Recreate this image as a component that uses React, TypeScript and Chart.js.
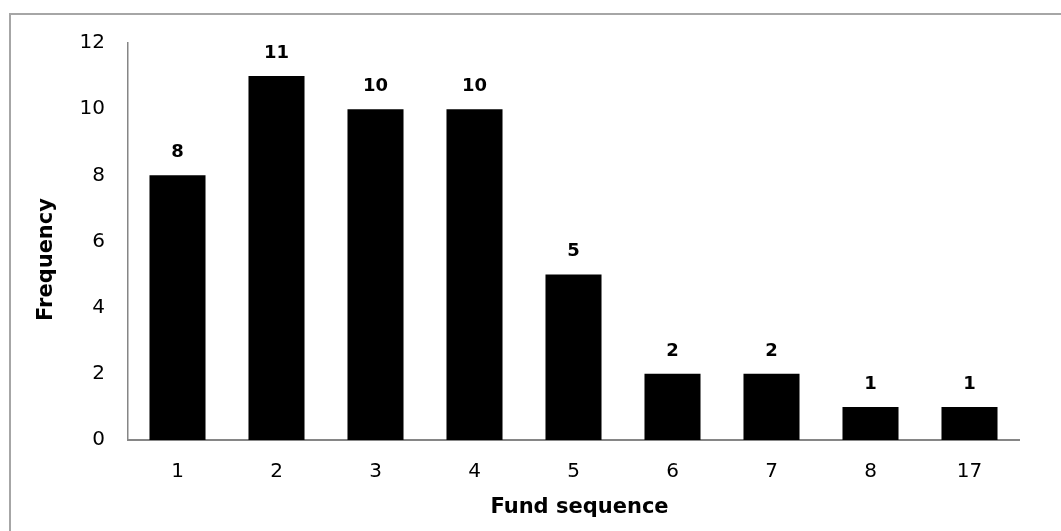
import React, { useEffect, useRef } from "react";
import { Chart, registerables } from "chart.js";

Chart.register(...registerables);

const categories = ["1", "2", "3", "4", "5", "6", "7", "8", "17"];
const frequency = [8, 11, 10, 10, 5, 2, 2, 1, 1];
const yTicks = [0, 2, 4, 6, 8, 10, 12];

const FONT = "'DejaVu Sans', Verdana, sans-serif";

// Slides an axis title along its axis by dx/dy pixels while it is drawn
function nudgeTitle(scale: any, dx: number, dy: number) {
  if (scale.__titleNudged) return;
  scale.__titleNudged = true;
  const original = scale.drawTitle;
  scale.drawTitle = function () {
    const { left, right, top, bottom } = this;
    this.left = left + dx;
    this.right = right + dx;
    this.top = top + dy;
    this.bottom = bottom + dy;
    original.call(this);
    this.left = left;
    this.right = right;
    this.top = top;
    this.bottom = bottom;
  };
}

// Writes each bar's value in bold just above it
const valueLabels = {
  id: "valueLabels",
  afterDatasetsDraw(chart: any) {
    const { ctx } = chart;
    const meta = chart.getDatasetMeta(0);
    const values = chart.data.datasets[0].data as number[];
    ctx.save();
    ctx.font = `bold 18px ${FONT}`;
    ctx.fillStyle = "#000";
    ctx.textAlign = "center";
    ctx.textBaseline = "middle";
    meta.data.forEach((bar: any, i: number) => {
      ctx.fillText(String(values[i]), bar.x, bar.y - 23);
    });
    ctx.restore();
  },
};

export default function App() {
  const canvasRef = useRef<HTMLCanvasElement>(null);

  useEffect(() => {
    if (!canvasRef.current) return;
    const chart = new Chart(canvasRef.current, {
      type: "bar",
      data: {
        labels: categories,
        datasets: [
          {
            data: frequency,
            backgroundColor: "#000000",
            borderWidth: 0,
            barPercentage: 0.566,
            categoryPercentage: 1,
          },
        ],
      },
      options: {
        animation: false,
        responsive: false,
        devicePixelRatio: 1,
        layout: { padding: { top: 43, right: 42, bottom: 0, left: 0 } },
        plugins: {
          legend: { display: false },
          tooltip: { enabled: false },
        },
        scales: {
          x: {
            grid: { display: false, drawTicks: false },
            border: { display: true, color: "#868686", width: 2 },
            ticks: {
              color: "#000",
              padding: 20,
              font: { family: FONT, size: 20 },
            },
            title: {
              display: true,
              text: "Fund sequence",
              color: "#000",
              font: { family: FONT, size: 21, weight: "bold" },
              padding: { top: 0, bottom: 11 },
            },
            afterFit(scale: any) {
              scale.height = 91;
              nudgeTitle(scale, 6, 0);
            },
          },
          y: {
            min: 0,
            max: 12,
            afterBuildTicks(scale: any) {
              scale.ticks = yTicks.map((v) => ({ value: v }));
            },
            grid: { display: false, drawTicks: false },
            border: { display: true, color: "#868686", width: 1.5 },
            ticks: {
              color: "#000",
              padding: 23,
              font: { family: FONT, size: 20 },
            },
            title: {
              display: true,
              text: "Frequency",
              color: "#000",
              font: { family: FONT, size: 21, weight: "bold" },
              padding: { top: 34, bottom: 0 },
            },
            afterFit(scale: any) {
              scale.width = 128;
              nudgeTitle(scale, 0, 18);
            },
          },
        },
      },
      plugins: [valueLabels],
    });
    return () => chart.destroy();
  }, []);

  return (
    <div
      style={{
        position: "fixed",
        left: 0,
        top: 0,
        width: 1061,
        height: 531,
        overflow: "hidden",
        background: "#fff",
      }}
    >
      <div
        style={{
          position: "absolute",
          left: 9,
          top: 13,
          width: 1200,
          height: 700,
          borderLeft: "2px solid #a6a6a6",
          borderTop: "2px solid #a6a6a6",
        }}
      />
      <canvas
        ref={canvasRef}
        width={1061}
        height={531}
        style={{ position: "absolute", left: 0, top: 0 }}
      />
    </div>
  );
}
